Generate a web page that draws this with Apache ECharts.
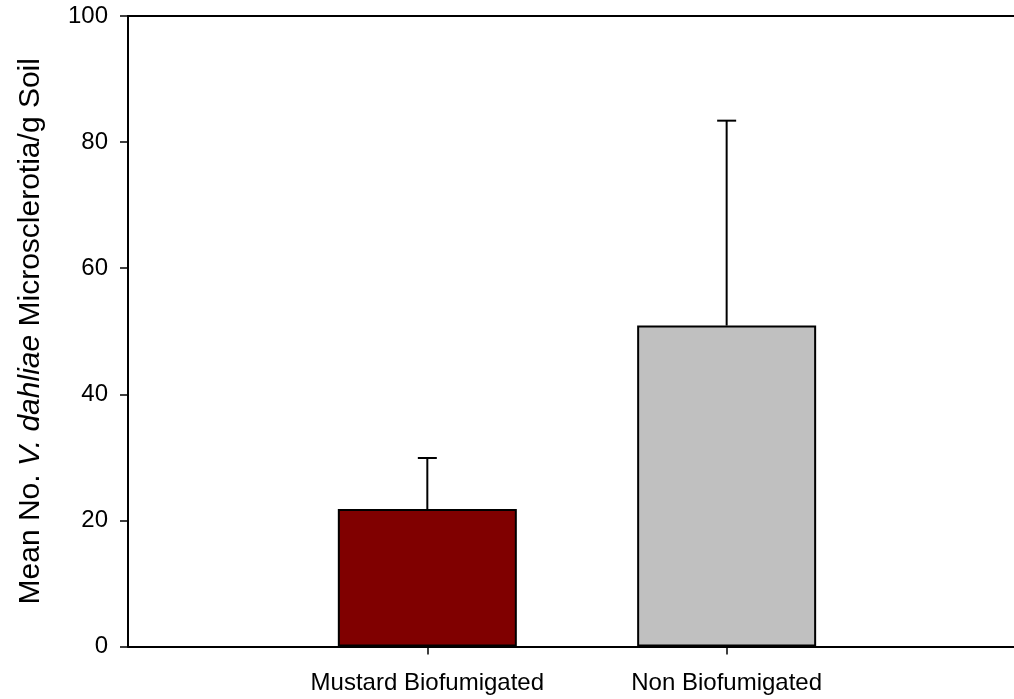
<!DOCTYPE html>
<html>
<head>
<meta charset="utf-8">
<script src="https://cdn.jsdelivr.net/npm/echarts@6/dist/echarts.min.js"></script>
<style>html,body{margin:0;padding:0;background:#fff}#c{width:1014px;height:699px}</style>
</head>
<body>
<div id="c"></div>
<script>
const categories = ['Mustard Biofumigated', 'Non Biofumigated'];
const positions = [1, 2];
const means = [21.8, 50.9];
const errors = [8.1, 32.5];
const barColors = ['#800000', '#C0C0C0'];
const yTicks = [0, 20, 40, 60, 80, 100];

const FONT = '"Liberation Sans", Arial, sans-serif';
const chart = echarts.init(document.getElementById('c'), null, {renderer: 'canvas'});

const barData = means.map((m, i) => ({value: [positions[i], m], itemStyle: {color: barColors[i]}}));
const errData = means.map((m, i) => [positions[i], m, m + errors[i]]);

chart.setOption({
  animation: false,
  backgroundColor: '#fff',
  grid: {left: 128, right: 0, top: 16, bottom: 52.5, containLabel: false},
  xAxis: [{
    type: 'value', min: 0, max: 2.96,
    axisLine: {show: true, lineStyle: {color: '#000', width: 2}},
    axisTick: {show: true, length: 8, lineStyle: {color: '#000', width: 1.5}, customValues: positions},
    axisLabel: {
      show: true, margin: 25, fontSize: 24, color: '#000', fontFamily: FONT,
      customValues: positions,
      formatter: v => { const i = positions.indexOf(v); return i >= 0 ? categories[i] : ''; }
    },
    splitLine: {show: false}
  }, {
    type: 'value', min: 0, max: 2.96, position: 'top',
    axisLine: {show: true, onZero: false, lineStyle: {color: '#000', width: 2}},
    axisTick: {show: false}, axisLabel: {show: false}, splitLine: {show: false}
  }],
  yAxis: {
    type: 'value', min: yTicks[0], max: yTicks[yTicks.length - 1], interval: 20,
    axisLine: {show: true, lineStyle: {color: '#000', width: 2}},
    axisTick: {show: true, length: 8, lineStyle: {color: '#000', width: 1.5}},
    axisLabel: {margin: 20, fontSize: 24, color: '#000', fontFamily: FONT},
    splitLine: {show: false},
    name: 'Mean No. {i|V. dahliae} Microsclerotia/g Soil',
    nameLocation: 'middle', nameGap: 82, nameRotate: 90,
    nameTextStyle: {fontSize: 30, color: '#000', fontFamily: FONT,
      rich: {i: {fontStyle: 'italic', fontSize: 30, color: '#000', fontFamily: FONT}}}
  },
  series: [{
    type: 'bar', data: barData, barWidth: 179,
    itemStyle: {borderColor: '#000', borderWidth: 2}
  }, {
    type: 'custom', data: errData, z: 1,
    renderItem: (params, api) => {
      const x = api.value(0);
      const p0 = api.coord([x, api.value(1)]);
      const p1 = api.coord([x, api.value(2)]);
      const hw = 9.5;
      const st = {stroke: '#000', lineWidth: 2};
      return {type: 'group', children: [
        {type: 'line', shape: {x1: p0[0], y1: p0[1], x2: p1[0], y2: p1[1]}, style: st},
        {type: 'line', shape: {x1: p1[0] - hw, y1: p1[1], x2: p1[0] + hw, y2: p1[1]}, style: st}
      ]};
    }
  }]
});
</script>
</body>
</html>
